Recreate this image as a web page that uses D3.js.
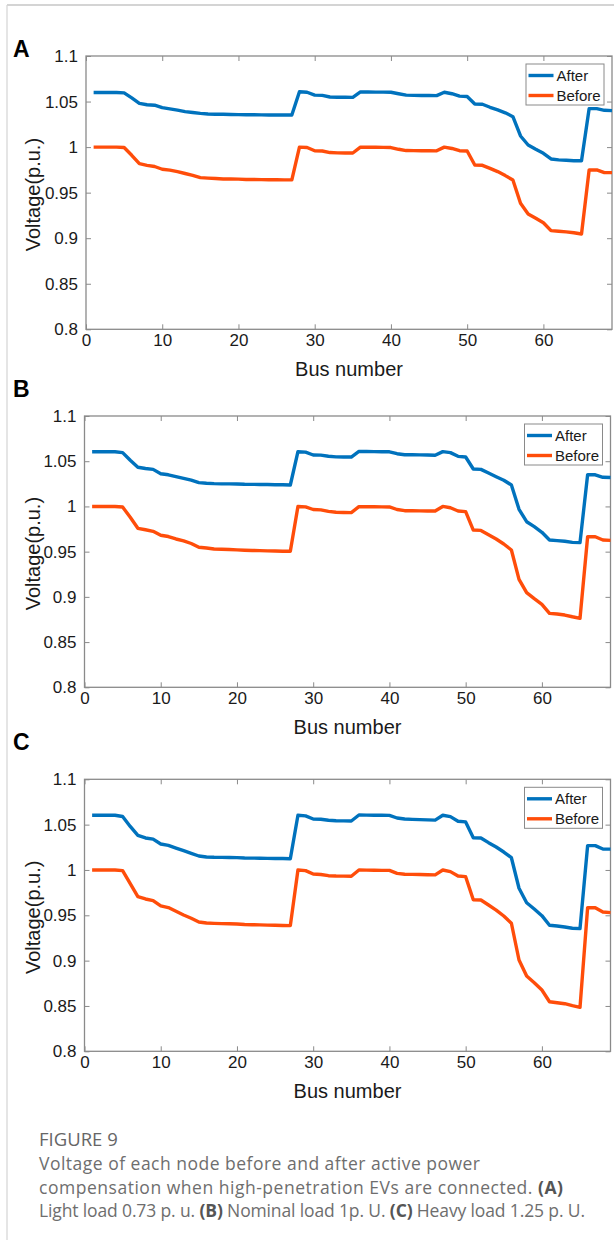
<!DOCTYPE html>
<html>
<head>
<meta charset="utf-8">
<script src="https://cdn.jsdelivr.net/npm/d3@7/dist/d3.min.js"></script>
<style>
  body { margin: 0; background: #fff; }
  svg { display: block; }
</style>
</head>
<body>
<svg id="fig" width="614" height="1240"></svg>
<script>
// Bus indices of the 69-bus feeder
const busNumbers = d3.range(1, 70);

// (A) light load 0.73 p.u.
const lightAfter = [
  1.060, 1.060, 1.060, 1.060, 1.0595, 1.054, 1.048, 1.0465, 1.046, 1.0433,
  1.042, 1.0406, 1.039, 1.038, 1.037, 1.0363, 1.036, 1.036, 1.0358, 1.0356,
  1.0355, 1.0355, 1.0354, 1.0353, 1.0352, 1.0352, 1.0352, 1.0608, 1.0602, 1.057,
  1.0568, 1.055, 1.0548, 1.0547, 1.0546, 1.0605, 1.0605, 1.0604, 1.0603, 1.0602,
  1.0586, 1.057, 1.0568, 1.0567, 1.0566, 1.0565, 1.0602, 1.0586, 1.056, 1.0555,
  1.0473, 1.047, 1.0437, 1.0408, 1.0376, 1.0334, 1.0122, 1.0023, 0.9976, 0.9932,
  0.987, 0.986, 0.9855, 0.985, 0.985, 1.0422, 1.0422, 1.0404, 1.040
];
const lightBefore = [
  1.000, 1.000, 1.000, 1.000, 0.9995, 0.991, 0.9818, 0.980, 0.9787, 0.9757,
  0.9747, 0.973, 0.971, 0.969, 0.9665, 0.966, 0.9655, 0.965, 0.965, 0.9648,
  0.9645, 0.9644, 0.9643, 0.9642, 0.9641, 0.964, 0.964, 1.000, 0.9996, 0.996,
  0.9957, 0.994, 0.9937, 0.9936, 0.9935, 1.000, 0.9999, 0.9998, 0.9997, 0.9995,
  0.9976, 0.9962, 0.9961, 0.996, 0.996, 0.9959, 1.000, 0.9985, 0.996, 0.9957,
  0.9804, 0.980, 0.9767, 0.9731, 0.9687, 0.9639, 0.9383, 0.9266, 0.9218, 0.917,
  0.9083, 0.9076, 0.907, 0.906, 0.9046, 0.9749, 0.975, 0.972, 0.972
];

// (B) nominal load 1 p.u.
const nominalAfter = [
  1.0605, 1.0605, 1.0605, 1.0605, 1.0595, 1.051, 1.0433, 1.042, 1.041, 1.0362,
  1.035, 1.033, 1.031, 1.029, 1.0263, 1.0256, 1.0252, 1.025, 1.0249, 1.0248,
  1.0245, 1.0244, 1.0243, 1.0242, 1.024, 1.0239, 1.0237, 1.0605, 1.060, 1.0569,
  1.0567, 1.0555, 1.0548, 1.0547, 1.0546, 1.0608, 1.0607, 1.0606, 1.0605, 1.0604,
  1.0583, 1.0572, 1.0571, 1.057, 1.0568, 1.0566, 1.0606, 1.0595, 1.0554, 1.0547,
  1.0414, 1.041, 1.037, 1.0329, 1.029, 1.0237, 0.9968, 0.9831, 0.9776, 0.9714,
  0.9629, 0.9622, 0.9615, 0.9603, 0.960, 1.0351, 1.035, 1.0322, 1.032
];
const nominalBefore = [
  1.000, 1.000, 1.000, 1.000, 0.9993, 0.988, 0.9758, 0.9742, 0.9725, 0.9681,
  0.9667, 0.964, 0.962, 0.959, 0.9548, 0.954, 0.953, 0.9527, 0.9524, 0.952,
  0.9516, 0.9513, 0.9511, 0.9509, 0.9507, 0.9505, 0.9504, 1.000, 0.9995, 0.9966,
  0.9962, 0.9945, 0.9935, 0.9933, 0.9931, 0.9998, 0.9997, 0.9996, 0.9995, 0.9994,
  0.9966, 0.9953, 0.9952, 0.9951, 0.995, 0.9949, 1.000, 0.9985, 0.995, 0.9943,
  0.9739, 0.9735, 0.9688, 0.964, 0.9585, 0.9518, 0.9194, 0.9046, 0.898, 0.8918,
  0.8818, 0.881, 0.8799, 0.878, 0.8763, 0.9665, 0.9665, 0.9629, 0.9625
];

// (C) heavy load 1.25 p.u.
const heavyAfter = [
  1.0603, 1.0603, 1.0603, 1.0603, 1.059, 1.048, 1.0382, 1.0353, 1.034, 1.0286,
  1.0272, 1.0242, 1.0213, 1.0184, 1.0154, 1.0143, 1.014, 1.0139, 1.0138, 1.0136,
  1.0132, 1.0131, 1.013, 1.0128, 1.0127, 1.0126, 1.0124, 1.0603, 1.0596, 1.0562,
  1.056, 1.0548, 1.0543, 1.0541, 1.054, 1.0606, 1.0605, 1.0604, 1.0603, 1.0602,
  1.0573, 1.0562, 1.0558, 1.0555, 1.0552, 1.055, 1.0603, 1.0588, 1.0537, 1.053,
  1.0356, 1.0353, 1.0301, 1.0253, 1.0198, 1.0135, 0.9798, 0.9639, 0.957, 0.9496,
  0.939, 0.9382, 0.9371, 0.9357, 0.9353, 1.0268, 1.0268, 1.0231, 1.023
];
const heavyBefore = [
  1.000, 1.000, 1.000, 1.000, 0.9993, 0.985, 0.9705, 0.968, 0.9662, 0.9603,
  0.9585, 0.9544, 0.9503, 0.9467, 0.9426, 0.9415, 0.9411, 0.9408, 0.9406, 0.9404,
  0.9398, 0.9396, 0.9394, 0.9392, 0.939, 0.9388, 0.9386, 1.000, 0.9993, 0.9955,
  0.995, 0.9937, 0.9933, 0.9932, 0.9931, 1.000, 0.9998, 0.9997, 0.9996, 0.9995,
  0.9963, 0.9953, 0.9951, 0.995, 0.9948, 0.9946, 1.000, 0.9982, 0.9933, 0.9926,
  0.9672, 0.9669, 0.9614, 0.9558, 0.9492, 0.9412, 0.9007, 0.883, 0.8757, 0.8676,
  0.8547, 0.8536, 0.8525, 0.8503, 0.8485, 0.9584, 0.9584, 0.9537, 0.953
];

const seriesNames = ["After", "Before"];
const panelLetters = ["A", "B", "C"];
const xTicks = [0, 10, 20, 30, 40, 50, 60];
const yTicks = [0.8, 0.85, 0.9, 0.95, 1, 1.05, 1.1];
const yTickLabels = ["0.8", "0.85", "0.9", "0.95", "1", "1.05", "1.1"];
const xTitle = "Bus number";
const yTitle = "Voltage(p.u.)";

const captionHead = "FIGURE 9";
const captionLines = [
  [{ t: "Voltage of each node before and after active power" }],
  [{ t: "compensation when high-penetration EVs are connected. " }, { t: "(A)", b: true }],
  [{ t: "Light load 0.73 p. u. " }, { t: "(B)", b: true }, { t: " Nominal load 1p. U. " },
   { t: "(C)", b: true }, { t: " Heavy load 1.25 p. U." }]
];

// ---- drawing ----
const colors = { After: "#0072BD", Before: "#FF4D0A" };
const axisColor = "#8a8a8a";
const textColor = "#1a1a1a";
const chartFont = "'Liberation Sans', Arial, Helvetica, sans-serif";
const captionFont = "'Open Sans', 'Noto Sans', sans-serif";

const svg = d3.select("#fig");

// page frame (top and left rule)
svg.append("line").attr("x1", 7).attr("x2", 614).attr("y1", 5).attr("y2", 5)
  .attr("stroke", "#d4d4d4").attr("stroke-width", 2);
svg.append("line").attr("x1", 7).attr("x2", 7).attr("y1", 5).attr("y2", 1240)
  .attr("stroke", "#d4d4d4").attr("stroke-width", 1.2);

const panels = [
  { letter: panelLetters[0], after: lightAfter,   before: lightBefore,   left: 86,   right: 612,   top: 56,    bottom: 329.3,  labelY: 57 },
  { letter: panelLetters[1], after: nominalAfter, before: nominalBefore, left: 84.5, right: 610.5, top: 416,   bottom: 687.3,  labelY: 397 },
  { letter: panelLetters[2], after: heavyAfter,   before: heavyBefore,   left: 84.5, right: 610.5, top: 779.3, bottom: 1051.3, labelY: 749.5 }
];

panels.forEach(p => {
  const x = d3.scaleLinear().domain([0, 69]).range([p.left, p.right]);
  const y = d3.scaleLinear().domain([0.8, 1.1]).range([p.bottom, p.top]);
  const g = svg.append("g");

  // panel letter
  g.append("text").attr("x", 13).attr("y", p.labelY)
    .attr("font-family", chartFont).attr("font-weight", "bold").attr("font-size", 23)
    .attr("fill", "#000").text(p.letter);

  const tick = 5;
  const styleAxis = sel => {
    sel.select(".domain").remove();
    sel.selectAll(".tick line").attr("stroke", axisColor).attr("stroke-width", 1);
    sel.selectAll(".tick text").attr("font-family", chartFont).attr("font-size", 17)
      .attr("fill", textColor);
  };

  g.append("g").attr("transform", `translate(0,${p.bottom})`)
    .call(d3.axisBottom(x).tickValues(xTicks).tickFormat(d3.format("d"))
      .tickSizeInner(-tick).tickSizeOuter(0).tickPadding(5))
    .call(styleAxis);
  g.append("g").attr("transform", `translate(0,${p.top})`)
    .call(d3.axisTop(x).tickValues(xTicks).tickFormat("")
      .tickSizeInner(-tick).tickSizeOuter(0))
    .call(styleAxis);
  g.append("g").attr("transform", `translate(${p.left},0)`)
    .call(d3.axisLeft(y).tickValues(yTicks).tickFormat((d, i) => yTickLabels[i])
      .tickSizeInner(-tick).tickSizeOuter(0).tickPadding(8))
    .call(styleAxis);
  g.append("g").attr("transform", `translate(${p.right},0)`)
    .call(d3.axisRight(y).tickValues(yTicks).tickFormat("")
      .tickSizeInner(-tick).tickSizeOuter(0))
    .call(styleAxis);

  // plot box
  g.append("rect").attr("x", p.left).attr("y", p.top)
    .attr("width", p.right - p.left).attr("height", p.bottom - p.top)
    .attr("fill", "none").attr("stroke", axisColor).attr("stroke-width", 1.3);

  // axis titles
  g.append("text").attr("x", (p.left + p.right) / 2).attr("y", p.bottom + 47)
    .attr("text-anchor", "middle").attr("font-family", chartFont).attr("font-size", 20)
    .attr("fill", textColor).text(xTitle);
  g.append("text")
    .attr("transform", `translate(40,${(p.top + p.bottom) / 2 + 2}) rotate(-90)`)
    .attr("text-anchor", "middle").attr("font-family", chartFont).attr("font-size", 20)
    .attr("fill", textColor).text(yTitle);

  // voltage profiles
  const line = d3.line().x((d, i) => x(busNumbers[i])).y(d => y(d));
  const seriesData = { After: p.after, Before: p.before };
  seriesNames.forEach(name => {
    g.append("path").datum(seriesData[name]).attr("d", line)
      .attr("fill", "none").attr("stroke", colors[name]).attr("stroke-width", 3.4)
      .attr("stroke-linejoin", "round");
  });

  // legend
  const lw = 78, lh = 41;
  const lx = p.right - 8 - lw, ly = p.top + 8;
  const lg = g.append("g").attr("transform", `translate(${lx},${ly})`);
  lg.append("rect").attr("width", lw).attr("height", lh)
    .attr("fill", "#fff").attr("stroke", "#8a8a8a").attr("stroke-width", 1);
  seriesNames.forEach((name, i) => {
    const cy = 11.5 + i * 20;
    lg.append("line").attr("x1", 2.5).attr("x2", 27.5).attr("y1", cy).attr("y2", cy)
      .attr("stroke", colors[name]).attr("stroke-width", 3.4);
    lg.append("text").attr("x", 30.5).attr("y", cy + 5.3)
      .attr("font-family", chartFont).attr("font-size", 15).attr("fill", textColor)
      .text(name);
  });
});

// caption
svg.append("text").attr("x", 39).attr("y", 1146)
  .attr("font-family", captionFont).attr("font-size", 18.5).attr("fill", "#666")
  .attr("font-weight", 500).text(captionHead);

const lineWidths = [441, 524, 546];
captionLines.forEach((parts, i) => {
  const t = svg.append("text").attr("x", 39).attr("y", 1170 + i * 23.5)
    .attr("font-family", captionFont).attr("font-size", 17.5).attr("fill", "#6e6e6e");
  parts.forEach(pt => {
    t.append("tspan").attr("font-weight", pt.b ? "bold" : null)
      .attr("fill", pt.b ? "#555" : null).text(pt.t);
  });
  t.attr("textLength", lineWidths[i]).attr("lengthAdjust", "spacing");
});
</script>
</body>
</html>
